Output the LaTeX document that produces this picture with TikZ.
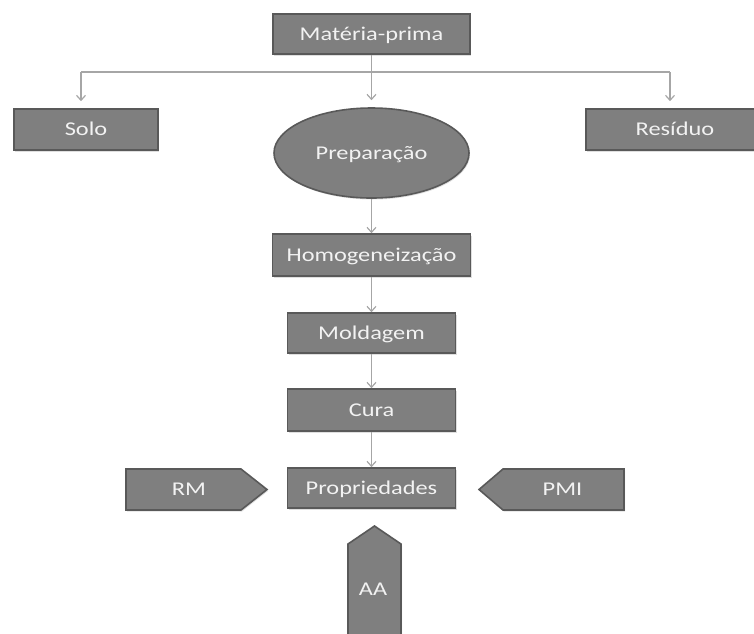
\documentclass[tikz,border=0pt]{standalone}
\usepackage{fontspec}
\setmainfont{Carlito}[FakeStretch=1.25]
\usetikzlibrary{arrows.meta,shapes.geometric,shadows}
\definecolor{boxfill}{HTML}{7F7F7F}
\definecolor{boxline}{HTML}{595959}
\definecolor{boxtext}{HTML}{F2F2F2}
\definecolor{arrcol}{HTML}{A6A6A6}
\begin{document}
\begin{tikzpicture}[x=1pt,y=-1pt,
  lbl/.style={text=boxtext,font=\fontsize{19.5pt}{23pt}\selectfont,inner sep=0pt,text height=12.5pt,text depth=0pt},
  shp/.style={draw=boxline,line width=1.6pt,fill=boxfill,drop shadow={shadow xshift=1pt,shadow yshift=-1.5pt,opacity=0.25}},
  rbox/.style={shp,lbl,rectangle},
  ebox/.style={shp,lbl,ellipse},
  ln/.style={draw=arrcol,line width=1.4pt},
  arr/.style={ln,-{Straight Barb[length=5pt,width=9pt,line width=1.2pt]}}
]
\useasboundingbox (0,0) rectangle (754,633);

% main nodes
\node[rbox,minimum width=197pt,minimum height=40pt] (mp) at (371.5,34) {Matéria-prima};
\node[rbox,minimum width=144pt,minimum height=41pt] (solo) at (86,129.5) {Solo};
\node[rbox,minimum width=178pt,minimum height=41pt] (res) at (675,129.5) {Resíduo};
\node[ebox,minimum width=195pt,minimum height=90pt] (prep) at (371.5,153) {Preparação};
\node[rbox,minimum width=198pt,minimum height=42pt] (homo) at (371.5,255) {Homogeneização};
\node[rbox,minimum width=168pt,minimum height=40pt] (mold) at (371.5,333) {Moldagem};
\node[rbox,minimum width=168pt,minimum height=42pt] (cura) at (371.5,410) {Cura};
\node[rbox,minimum width=168pt,minimum height=40pt] (prop) at (371.5,488) {Propriedades};

% pentagon arrows
\path[shp] (126,469) -- (241,469) -- (267,489.5) -- (241,510) -- (126,510) -- cycle;
\node[lbl] (rm) at (189,489.5) {RM};
\path[shp] (624,469) -- (503,469) -- (479,489.5) -- (503,510) -- (624,510) -- cycle;
\node[lbl] (pmi) at (562.5,489.5) {PMI};
\path[shp] (348,645) -- (348,544) -- (374.5,526) -- (401,544) -- (401,645) -- cycle;
\node[lbl] (aa) at (373,589) {AA};

% connectors
\coordinate (jl) at (81,72);
\coordinate (jr) at (670,72);
\draw[ln] (mp.south) -- (mp.south |- jl);
\draw[ln] (jl) -- (jr);
\draw[arr,shorten >=7pt] (jl) -- (jl |- solo.north);
\draw[arr,shorten >=7pt] (jr) -- (jr |- res.north);
\draw[arr,shorten >=7pt] (mp.south |- jl) -- (prep.north);
\draw[arr] (prep.south) -- (homo.north);
\draw[arr] (homo.south) -- (mold.north);
\draw[arr] (mold.south) -- (cura.north);
\draw[arr] (cura.south) -- (prop.north);
\end{tikzpicture}
\end{document}
